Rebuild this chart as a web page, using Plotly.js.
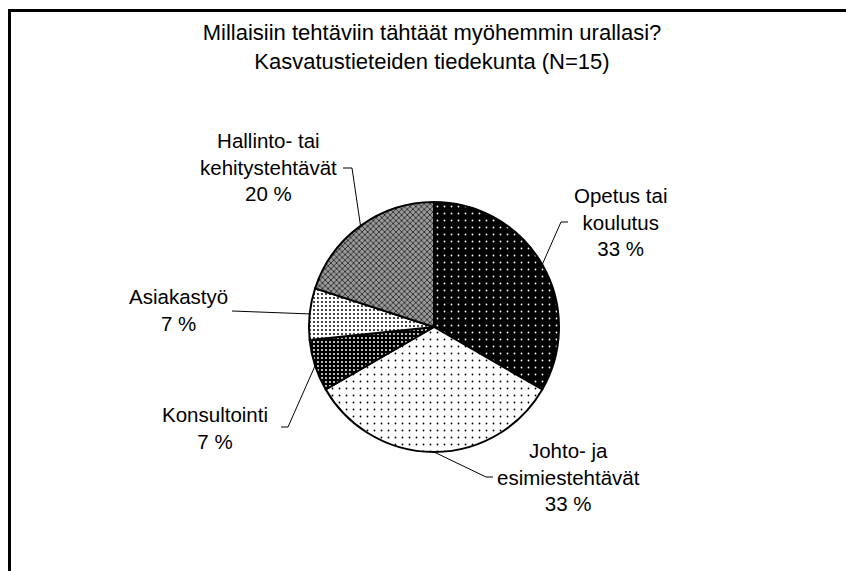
<!DOCTYPE html>
<html>
<head>
<meta charset="utf-8">
<script src="https://cdn.plot.ly/plotly-3.0.1.min.js"></script>
<style>html,body{margin:0;padding:0;background:#fff;}#chart{width:846px;height:571px;}</style>
</head>
<body>
<div id="chart"></div>
<script>
// ---- data ----
var categories = ["Opetus tai koulutus", "Johto- ja esimiestehtävät", "Konsultointi", "Asiakastyö", "Hallinto- tai kehitystehtävät"];
var labelTexts = ["Opetus tai<br>koulutus", "Johto- ja<br>esimiestehtävät", "Konsultointi", "Asiakastyö", "Hallinto- tai<br>kehitystehtävät"];
var counts = [5, 5, 1, 1, 3];
var titleLines = ["Millaisiin tehtäviin tähtäät myöhemmin urallasi?", "Kasvatustieteiden tiedekunta (N=15)"];

// ---- layout constants ----
var W = 846, H = 571;
var CX = 434, CY = 327, R = 125;
function px(x){ return x / W; }
function py(y){ return 1 - y / H; }

var labelCenters = [[620, 222], [568, 477], [215, 428], [178, 310], [268, 167]];
var elbows = [[[568,222],[561,222]], [[493,477],[486,477]], [[281,427],[288,427]], [[232,311]], [[343,168],[352,168]]];

var patterns = [
  {shape: ".", bgcolor: "#000000", fgcolor: "#ffffff", size: 7, solidity: 0.05},
  {shape: ".", bgcolor: "#ffffff", fgcolor: "#000000", size: 7, solidity: 0.05},
  {shape: ".", bgcolor: "#000000", fgcolor: "#ffffff", size: 4, solidity: 0.18},
  {shape: ".", bgcolor: "#ffffff", fgcolor: "#000000", size: 4, solidity: 0.18},
  {shape: "x", bgcolor: "#9a9a9a", fgcolor: "#000000", size: 4, solidity: 0.3}
];

var total = counts.reduce(function(a,b){return a+b;}, 0);
var pctLabels = counts.map(function(v){ return Math.round(v/total*100) + " %"; });

var annotations = [];
var shapes = [];
var cum = 0;
counts.forEach(function(v, i){
  var mid = 2*Math.PI*(cum + v/2)/total;
  cum += v;
  var ex = CX + R*Math.sin(mid), ey = CY - R*Math.cos(mid);
  annotations.push({
    text: labelTexts[i] + "<br>" + pctLabels[i],
    x: px(labelCenters[i][0]), y: py(labelCenters[i][1]),
    xref: "paper", yref: "paper", xanchor: "center", yanchor: "middle",
    showarrow: false, align: "center",
    font: {family: "Liberation Sans, Arial, sans-serif", size: 20.5, color: "#000"}
  });
  var pts = elbows[i].concat([[ex, ey]]);
  var d = pts.map(function(p, k){ return (k===0?"M":"L") + px(p[0]) + "," + py(p[1]); }).join(" ");
  shapes.push({type: "path", xref: "paper", yref: "paper", path: d, line: {color: "#000", width: 1}});
});

// frame (top and left edges visible)
shapes.push({type: "line", xref: "paper", yref: "paper", x0: px(8), x1: 1.01, y0: py(10.5), y1: py(10.5), line: {color: "#000", width: 3}});
shapes.push({type: "line", xref: "paper", yref: "paper", x0: px(9.5), x1: px(9.5), y0: py(9), y1: -0.01, line: {color: "#000", width: 3}});

var trace = {
  type: "pie",
  labels: categories,
  values: counts,
  sort: false,
  direction: "clockwise",
  rotation: 0,
  textinfo: "none",
  hoverinfo: "skip",
  showlegend: false,
  domain: {x: [px(CX-R), px(CX+R)], y: [py(CY+R), py(CY-R)]},
  marker: {
    colors: patterns.map(function(p){ return p.bgcolor; }),
    line: {color: "#000", width: 2},
    pattern: {
      shape: patterns.map(function(p){ return p.shape; }),
      bgcolor: patterns.map(function(p){ return p.bgcolor; }),
      fgcolor: patterns.map(function(p){ return p.fgcolor; }),
      size: patterns.map(function(p){ return p.size; }),
      solidity: patterns.map(function(p){ return p.solidity; })
    }
  }
};

var layout = {
  width: W, height: H,
  margin: {l: 0, r: 0, t: 0, b: 0},
  paper_bgcolor: "#fff",
  title: {
    text: titleLines.join("<br>"),
    x: px(432), xanchor: "center",
    y: py(40), yanchor: "middle",
    font: {family: "Liberation Sans, Arial, sans-serif", size: 22, color: "#000"}
  },
  annotations: annotations,
  shapes: shapes
};

Plotly.newPlot("chart", [trace], layout, {displayModeBar: false, staticPlot: true});
</script>
</body>
</html>
